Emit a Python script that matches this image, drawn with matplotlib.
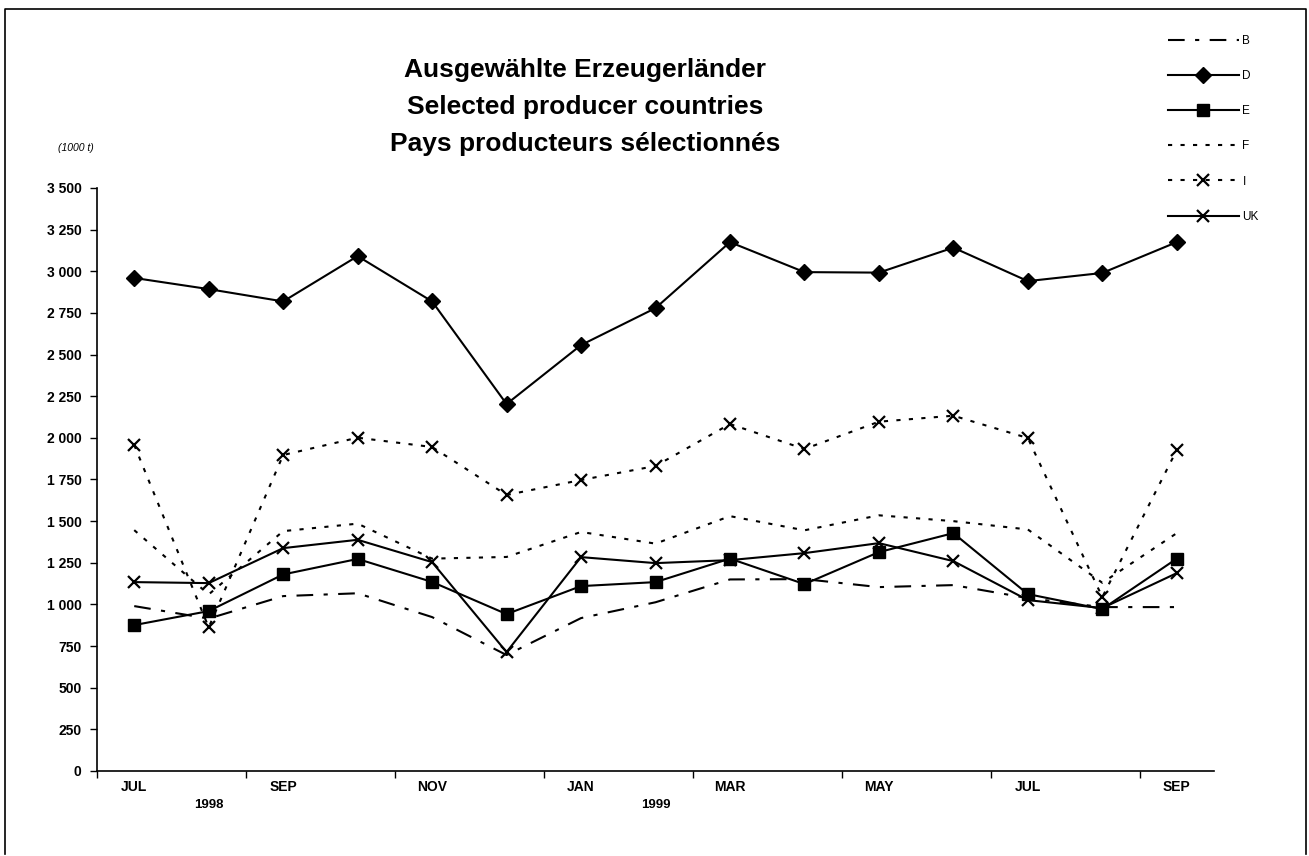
import matplotlib
matplotlib.use("Agg")
from matplotlib import pyplot as plt
from matplotlib.lines import Line2D
import numpy as np

plt.rcParams['font.family'] = ['Liberation Sans Narrow', 'Liberation Sans', 'DejaVu Sans']

months = ['JUL', 'AUG', 'SEP', 'OCT', 'NOV', 'DEC', 'JAN', 'FEB', 'MAR', 'APR', 'MAY', 'JUN', 'JUL', 'AUG', 'SEP']
years = ['1998', '1999']
year_pos = [1, 7]

# values in 1000 t
b_vals = [990, 915, 1050, 1067, 924, 696, 918, 1013, 1150, 1152, 1104, 1116, 1038, 984, 984]
d_vals = [2960, 2893, 2819, 3091, 2819, 2203, 2557, 2779, 3175, 2995, 2992, 3142, 2941, 2990, 3175]
e_vals = [876, 960, 1180, 1273, 1135, 942, 1110, 1134, 1275, 1122, 1314, 1428, 1062, 972, 1275]
f_vals = [1446, 1060, 1440, 1485, 1275, 1285, 1435, 1365, 1530, 1445, 1535, 1500, 1450, 1130, 1428]
i_vals = [1957, 862, 1897, 2001, 1945, 1657, 1747, 1831, 2083, 1933, 2097, 2133, 1999, 1044, 1927]
uk_vals = [1134, 1128, 1338, 1388, 1254, 714, 1284, 1248, 1266, 1308, 1368, 1260, 1026, 978, 1188]

yticks = [0, 250, 500, 750, 1000, 1250, 1500, 1750, 2000, 2250, 2500, 2750, 3000, 3250, 3500]

W, H = 1309, 856
fig = plt.figure(figsize=(W / 100, H / 100), dpi=100)
ax = fig.add_axes([97 / W, 1 - 771 / H, (1214 - 97) / W, (771 - 188) / H])

x = np.arange(len(months))
lw = 1.5
ax.plot(x, b_vals, color='black', lw=lw, ls=(0, (8, 5, 2, 5)), label='B')
ax.plot(x, d_vals, color='black', lw=lw, marker='D', ms=8, label='D')
ax.plot(x, e_vals, color='black', lw=lw, marker='s', ms=8, label='E')
ax.plot(x, f_vals, color='black', lw=lw, ls=(0, (2, 4)), label='F')
ax.plot(x, i_vals, color='black', lw=lw, ls=(0, (2, 4)), marker='x', ms=9, mew=1.6, label='I')
ax.plot(x, uk_vals, color='black', lw=lw, marker='x', ms=9, mew=1.6, label='UK')

ax.set_xlim(-0.5, len(months) - 0.5)
ax.set_ylim(0, 3500)
ax.set_yticks(yticks)
ax.set_yticklabels([f"{v:,}".replace(',', ' ') for v in yticks], fontsize=10, fontweight='bold')
ax.set_xticks(np.arange(-0.5, len(months), 2))
ax.set_xticklabels([])
ax.tick_params(axis='both', direction='out', length=5, width=1)
ax.tick_params(axis='y', pad=6)
for s in ['top', 'right']:
    ax.spines[s].set_visible(False)
for s in ['left', 'bottom']:
    ax.spines[s].set_linewidth(1.2)

# month and year labels
for i in range(0, len(months), 2):
    ax.text(i, -95, months[i], ha='center', va='center', fontsize=10, fontweight='bold')
for p, yr in zip(year_pos, years):
    ax.text(p, -205, yr, ha='center', va='center', fontsize=9.5, fontweight='bold')

# titles
for k, t in enumerate(['Ausgewählte Erzeugerländer', 'Selected producer countries',
                       'Pays producteurs sélectionnés']):
    fig.text(585 / W, 1 - (70 + 37 * k) / H, t, ha='center', va='center',
             fontsize=19, fontweight='bold', family=['Liberation Sans', 'DejaVu Sans'])
fig.text(76 / W, 1 - 148 / H, '(1000 t)', ha='center', va='center', fontsize=7.5, style='italic')

ax.legend(loc='upper left', bbox_to_anchor=(1168 / W, 1 - 35 / H), bbox_transform=fig.transFigure,
          frameon=False, fontsize=8.5, numpoints=1, handlelength=6.0, handletextpad=0.3,
          labelspacing=1.96, borderpad=0, borderaxespad=0)

# frame around the figure
fig.add_artist(Line2D([5 / W, 5 / W, 1306 / W, 1306 / W], [1 - 854 / H, 1 - 9 / H, 1 - 9 / H, 1 - 854 / H],
                      transform=fig.transFigure, color='black', lw=1.2))

fig.savefig('out.png', dpi=100)
